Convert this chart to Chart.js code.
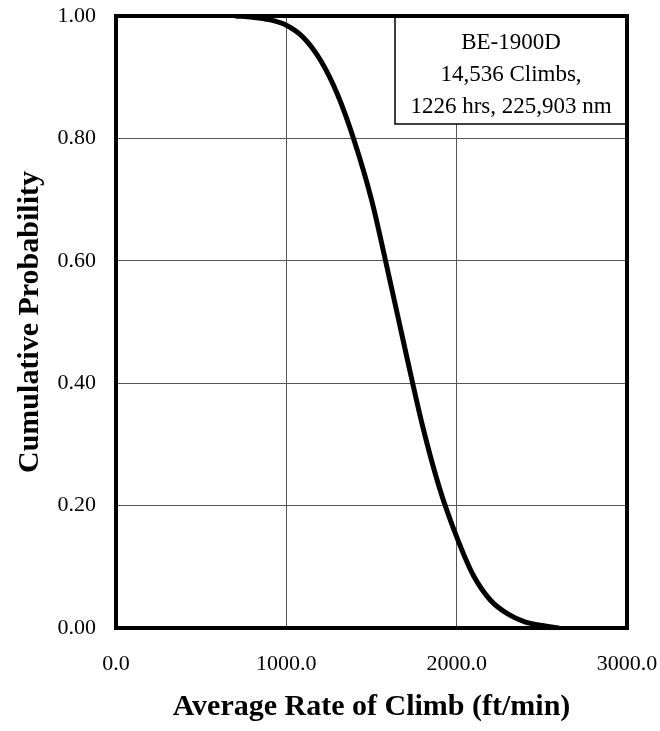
<!DOCTYPE html>
<html>
<head>
<meta charset="utf-8">
<script src="https://cdn.jsdelivr.net/npm/chart.js@4/dist/chart.umd.min.js"></script>
<style>
  html, body { margin: 0; padding: 0; background: #fff; }
  #wrap { position: relative; width: 660px; height: 731px; }
</style>
</head>
<body>
<div id="wrap"><canvas id="chart"></canvas></div>
<script>
// rate of climb (ft/min)
var climbRate = [700, 800, 900, 1000, 1100, 1200, 1300, 1400, 1500, 1600, 1700, 1800, 1900, 2000, 2100, 2200, 2300, 2400, 2500, 2600];
// cumulative probability at each rate
var cumProb = [1.000, 0.998, 0.994, 0.985, 0.965, 0.928, 0.872, 0.795, 0.700, 0.578, 0.452, 0.330, 0.228, 0.149, 0.085, 0.045, 0.023, 0.010, 0.004, 0.000];

var xTicks = [0, 1000, 2000, 3000];
var yTicks = [0, 0.2, 0.4, 0.6, 0.8, 1.0];
var infoLines = ["BE-1900D", "14,536 Climbs,", "1226 hrs, 225,903 nm"];

var serif = "'Liberation Serif', 'Times New Roman', serif";

var points = climbRate.map(function (x, i) {
  return { x: x, y: cumProb[i] };
});

// thick frame round the plot + the info box in the top right corner
var framePlugin = {
  id: "frame",
  afterDatasetsDraw: function (chart) {
    var ctx = chart.ctx;
    var a = chart.chartArea;
    ctx.save();

    // info box
    var bx = 395, by = a.top, bw = a.right - 395, bh = 108;
    ctx.fillStyle = "#fff";
    ctx.fillRect(bx, by, bw, bh);
    ctx.strokeStyle = "#000";
    ctx.lineWidth = 1.5;
    ctx.strokeRect(bx, by, bw, bh);
    ctx.fillStyle = "#000";
    ctx.font = "23px " + serif;
    ctx.textAlign = "center";
    ctx.textBaseline = "middle";
    var cx = bx + bw / 2;
    infoLines.forEach(function (t, i) {
      ctx.fillText(t, cx, by + 27 + i * 32);
    });

    // frame
    ctx.lineWidth = 4;
    ctx.strokeRect(a.left, a.top, a.right - a.left, a.bottom - a.top);
    ctx.restore();
  }
};

var config = {
  type: "scatter",
  data: {
    datasets: [
      {
        data: points,
        showLine: true,
        borderColor: "#000",
        borderWidth: 5,
        pointRadius: 0,
        cubicInterpolationMode: "monotone",
        fill: false
      }
    ]
  },
  options: {
    responsive: false,
    animation: false,
    layout: { padding: { top: 16, right: 33, left: 0, bottom: 0 } },
    plugins: {
      legend: { display: false },
      tooltip: { enabled: false }
    },
    scales: {
      x: {
        type: "linear",
        min: 0,
        max: 3000,
        afterFit: function (scale) {
          scale.height = 103;
          // no extra room for the end labels, they may hang over
          scale.paddingLeft = 0;
          scale.paddingRight = 0;
        },
        afterBuildTicks: function (scale) {
          scale.ticks = xTicks.map(function (v) { return { value: v }; });
        },
        ticks: {
          autoSkip: false,
          maxRotation: 0,
          padding: 23,
          color: "#000",
          font: { family: serif, size: 22 },
          callback: function (v) { return Number(v).toFixed(1); }
        },
        grid: { color: "#555", lineWidth: 1, drawTicks: false },
        border: { display: false },
        title: {
          display: true,
          text: "Average Rate of Climb (ft/min)",
          color: "#000",
          font: { family: serif, size: 30, weight: "bold" },
          padding: { top: 0, bottom: 6 }
        }
      },
      y: {
        type: "linear",
        min: 0,
        max: 1,
        afterFit: function (scale) {
          scale.width = 116;
          scale.paddingTop = 0;
          scale.paddingBottom = 0;
        },
        afterBuildTicks: function (scale) {
          scale.ticks = yTicks.map(function (v) { return { value: v }; });
        },
        ticks: {
          autoSkip: false,
          padding: 20,
          color: "#000",
          font: { family: serif, size: 22 },
          callback: function (v) { return Number(v).toFixed(2); }
        },
        grid: { color: "#555", lineWidth: 1, drawTicks: false },
        border: { display: false },
        title: {
          display: true,
          text: "Cumulative Probability",
          color: "#000",
          font: { family: serif, size: 30, weight: "bold" },
          padding: { top: 12, bottom: 0 }
        }
      }
    }
  },
  plugins: [framePlugin]
};

var canvas = document.getElementById("chart");
canvas.width = 660;
canvas.height = 731;
var myChart = new Chart(canvas.getContext("2d"), config);
</script>
</body>
</html>
